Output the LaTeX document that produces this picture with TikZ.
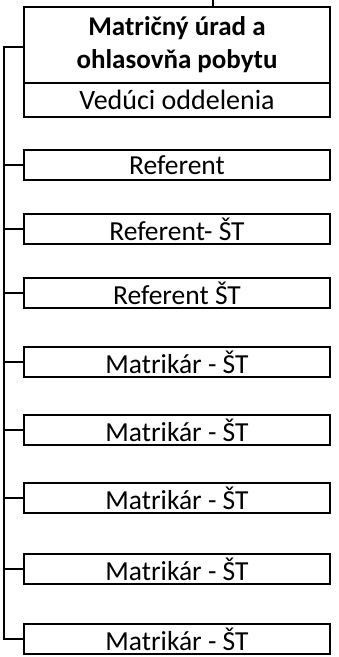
\documentclass[tikz,border=0pt]{standalone}
\usepackage{fontspec}
\setmainfont{Carlito}
\begin{document}
\begin{tikzpicture}[x=1pt,y=-1pt,
  line/.style={line width=2.8pt},
  box/.style={draw,line width=2.8pt,minimum width=306pt,minimum height=30pt,inner sep=0pt,font=\fontsize{27.5}{30}\selectfont},
  titlebox/.style={draw,line width=2.8pt,minimum width=306pt,minimum height=76pt,inner sep=0pt,align=center,font=\fontsize{27}{33}\selectfont\bfseries},
  headbox/.style={draw,line width=2.8pt,minimum width=306pt,minimum height=34pt,inner sep=0pt,font=\fontsize{28}{30}\selectfont}]
\useasboundingbox (0,0) rectangle (338,657);
\node[titlebox] (title) at (177,45) {Matričný úrad a\\ohlasovňa pobytu};
\node[headbox] (head) at (177,100) {Vedúci oddelenia};
\node[box] (b1) at (177,165) {Referent};
\node[box] (b2) at (177,229) {Referent- ŠT};
\node[box] (b3) at (177,293) {Referent ŠT};
\node[box] (b4) at (177,362) {Matrikár - ŠT};
\node[box] (b5) at (177,430) {Matrikár - ŠT};
\node[box] (b6) at (177,498) {Matrikár - ŠT};
\node[box] (b7) at (177,569) {Matrikár - ŠT};
\node[box] (b8) at (177,639) {Matrikár - ŠT};
\coordinate (top) at (213,0);
\coordinate (bt) at (4,47);
\draw[line] (top) -- (top |- title.north);
\draw[line] (title.west |- bt) -- (bt) -- (bt |- b8.west) -- (b8.west);
\foreach \b in {b1,b2,b3,b4,b5,b6,b7}
  \draw[line] (bt |- \b.west) -- (\b.west);
\end{tikzpicture}
\end{document}
